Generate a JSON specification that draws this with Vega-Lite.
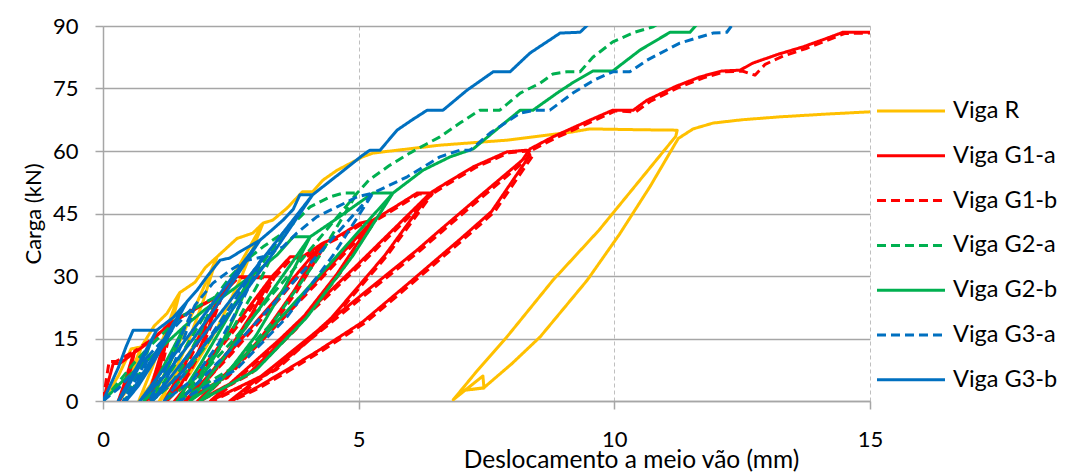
{
"$schema":"https://vega.github.io/schema/vega-lite/v6.json",
"autosize":{"type":"none"},
"padding":{"left":103,"top":26,"right":200,"bottom":71},
"width":767,"height":375,
"config":{"view":{"stroke":null},"font":"Lato"},
"data":{"values":[
{"s":"Viga R","i":0,"x":0,"y":0},{"s":"Viga R","i":1,"x":0.3,"y":6},{"s":"Viga R","i":2,"x":0.55,"y":12.5},{"s":"Viga R","i":3,"x":0.75,"y":13},{"s":"Viga R","i":4,"x":0.657,"y":9.1},{"s":"Viga R","i":5,"x":0.548,"y":5.2},{"s":"Viga R","i":6,"x":0.431,"y":1.95},{"s":"Viga R","i":7,"x":0.3,"y":0},{"s":"Viga R","i":8,"x":0.444,"y":3.9},{"s":"Viga R","i":9,"x":0.599,"y":8.45},{"s":"Viga R","i":10,"x":0.75,"y":13},{"s":"Viga R","i":11,"x":1.0,"y":18},{"s":"Viga R","i":12,"x":1.25,"y":21},{"s":"Viga R","i":13,"x":1.5,"y":26},{"s":"Viga R","i":14,"x":1.334,"y":18.2},{"s":"Viga R","i":15,"x":1.141,"y":10.4},{"s":"Viga R","i":16,"x":0.933,"y":3.9},{"s":"Viga R","i":17,"x":0.7,"y":0},{"s":"Viga R","i":18,"x":0.955,"y":7.8},{"s":"Viga R","i":19,"x":1.231,"y":16.9},{"s":"Viga R","i":20,"x":1.5,"y":26},{"s":"Viga R","i":21,"x":1.8,"y":28.5},{"s":"Viga R","i":22,"x":2.0,"y":32},{"s":"Viga R","i":23,"x":2.23,"y":34.6},{"s":"Viga R","i":24,"x":1.965,"y":24.2},{"s":"Viga R","i":25,"x":1.655,"y":13.8},{"s":"Viga R","i":26,"x":1.322,"y":5.2},{"s":"Viga R","i":27,"x":0.95,"y":0},{"s":"Viga R","i":28,"x":1.358,"y":10.4},{"s":"Viga R","i":29,"x":1.8,"y":22.5},{"s":"Viga R","i":30,"x":2.23,"y":34.6},{"s":"Viga R","i":31,"x":2.62,"y":39},{"s":"Viga R","i":32,"x":2.93,"y":40.3},{"s":"Viga R","i":33,"x":3.13,"y":42.7},{"s":"Viga R","i":34,"x":2.71,"y":29.9},{"s":"Viga R","i":35,"x":2.219,"y":17.1},{"s":"Viga R","i":36,"x":1.691,"y":6.4},{"s":"Viga R","i":37,"x":1.1,"y":0},{"s":"Viga R","i":38,"x":1.748,"y":12.8},{"s":"Viga R","i":39,"x":2.448,"y":27.8},{"s":"Viga R","i":40,"x":3.13,"y":42.7},{"s":"Viga R","i":41,"x":3.32,"y":43.4},{"s":"Viga R","i":42,"x":3.6,"y":46.3},{"s":"Viga R","i":43,"x":3.9,"y":50.2},{"s":"Viga R","i":44,"x":4.1,"y":50.2},{"s":"Viga R","i":45,"x":4.3,"y":53},{"s":"Viga R","i":46,"x":4.58,"y":55.4},{"s":"Viga R","i":47,"x":5.08,"y":58.6},{"s":"Viga R","i":48,"x":5.28,"y":59.5},{"s":"Viga R","i":49,"x":6.59,"y":61.4},{"s":"Viga R","i":50,"x":7.9,"y":62.6},{"s":"Viga R","i":51,"x":9.19,"y":64.6},{"s":"Viga R","i":52,"x":9.52,"y":65.3},{"s":"Viga R","i":53,"x":10.5,"y":65.1},{"s":"Viga R","i":54,"x":11.23,"y":65.0},{"s":"Viga R","i":55,"x":11.2,"y":63.5},{"s":"Viga R","i":56,"x":9.7,"y":41},{"s":"Viga R","i":57,"x":8.8,"y":29},{"s":"Viga R","i":58,"x":7.9,"y":15.4},{"s":"Viga R","i":59,"x":7.3,"y":7},{"s":"Viga R","i":60,"x":6.85,"y":0.3},{"s":"Viga R","i":61,"x":7.43,"y":6.0},{"s":"Viga R","i":62,"x":7.45,"y":3.1},{"s":"Viga R","i":63,"x":7.02,"y":2.5},{"s":"Viga R","i":64,"x":7.45,"y":3.2},{"s":"Viga R","i":65,"x":8.0,"y":9},{"s":"Viga R","i":66,"x":8.55,"y":15.4},{"s":"Viga R","i":67,"x":9.47,"y":29},{"s":"Viga R","i":68,"x":10.1,"y":40},{"s":"Viga R","i":69,"x":10.7,"y":51.5},{"s":"Viga R","i":70,"x":11.25,"y":63},{"s":"Viga R","i":71,"x":11.54,"y":65.3},{"s":"Viga R","i":72,"x":11.93,"y":66.7},{"s":"Viga R","i":73,"x":12.5,"y":67.5},{"s":"Viga R","i":74,"x":13.24,"y":68.2},{"s":"Viga R","i":75,"x":14.2,"y":68.9},{"s":"Viga R","i":76,"x":15.0,"y":69.4},

{"s":"Viga G1-a","i":0,"x":0,"y":0},{"s":"Viga G1-a","i":1,"x":0.2,"y":9},{"s":"Viga G1-a","i":2,"x":0.33,"y":9},{"s":"Viga G1-a","i":3,"x":0.6,"y":11.5},{"s":"Viga G1-a","i":4,"x":0.538,"y":8.05},{"s":"Viga G1-a","i":5,"x":0.465,"y":4.6},{"s":"Viga G1-a","i":6,"x":0.387,"y":1.73},{"s":"Viga G1-a","i":7,"x":0.3,"y":0},{"s":"Viga G1-a","i":8,"x":0.396,"y":3.45},{"s":"Viga G1-a","i":9,"x":0.499,"y":7.48},{"s":"Viga G1-a","i":10,"x":0.6,"y":11.5},{"s":"Viga G1-a","i":11,"x":0.95,"y":14.5},{"s":"Viga G1-a","i":12,"x":1.3,"y":18.5},{"s":"Viga G1-a","i":13,"x":1.207,"y":12.95},{"s":"Viga G1-a","i":14,"x":1.098,"y":7.4},{"s":"Viga G1-a","i":15,"x":0.981,"y":2.78},{"s":"Viga G1-a","i":16,"x":0.85,"y":0},{"s":"Viga G1-a","i":17,"x":0.994,"y":5.55},{"s":"Viga G1-a","i":18,"x":1.149,"y":12.03},{"s":"Viga G1-a","i":19,"x":1.3,"y":18.5},{"s":"Viga G1-a","i":20,"x":1.8,"y":22},{"s":"Viga G1-a","i":21,"x":2.3,"y":25.5},{"s":"Viga G1-a","i":22,"x":2.072,"y":17.85},{"s":"Viga G1-a","i":23,"x":1.806,"y":10.2},{"s":"Viga G1-a","i":24,"x":1.52,"y":3.83},{"s":"Viga G1-a","i":25,"x":1.2,"y":0},{"s":"Viga G1-a","i":26,"x":1.551,"y":7.65},{"s":"Viga G1-a","i":27,"x":1.93,"y":16.58},{"s":"Viga G1-a","i":28,"x":2.3,"y":25.5},{"s":"Viga G1-a","i":29,"x":2.6,"y":29.8},{"s":"Viga G1-a","i":30,"x":3.3,"y":29.8},{"s":"Viga G1-a","i":31,"x":2.907,"y":20.86},{"s":"Viga G1-a","i":32,"x":2.447,"y":11.92},{"s":"Viga G1-a","i":33,"x":1.953,"y":4.47},{"s":"Viga G1-a","i":34,"x":1.4,"y":0},{"s":"Viga G1-a","i":35,"x":2.006,"y":8.94},{"s":"Viga G1-a","i":36,"x":2.662,"y":19.37},{"s":"Viga G1-a","i":37,"x":3.3,"y":29.8},{"s":"Viga G1-a","i":38,"x":3.66,"y":34.6},{"s":"Viga G1-a","i":39,"x":3.9,"y":34.6},{"s":"Viga G1-a","i":40,"x":4.3,"y":37.9},{"s":"Viga G1-a","i":41,"x":3.741,"y":26.53},{"s":"Viga G1-a","i":42,"x":3.088,"y":15.16},{"s":"Viga G1-a","i":43,"x":2.386,"y":5.69},{"s":"Viga G1-a","i":44,"x":1.6,"y":0},{"s":"Viga G1-a","i":45,"x":2.461,"y":11.37},{"s":"Viga G1-a","i":46,"x":3.393,"y":24.64},{"s":"Viga G1-a","i":47,"x":4.3,"y":37.9},{"s":"Viga G1-a","i":48,"x":4.58,"y":39.4},{"s":"Viga G1-a","i":49,"x":5.03,"y":42.7},{"s":"Viga G1-a","i":50,"x":5.28,"y":43.4},{"s":"Viga G1-a","i":51,"x":4.57,"y":30.38},{"s":"Viga G1-a","i":52,"x":3.74,"y":17.36},{"s":"Viga G1-a","i":53,"x":2.848,"y":6.51},{"s":"Viga G1-a","i":54,"x":1.85,"y":0},{"s":"Viga G1-a","i":55,"x":2.944,"y":13.02},{"s":"Viga G1-a","i":56,"x":4.128,"y":28.21},{"s":"Viga G1-a","i":57,"x":5.28,"y":43.4},{"s":"Viga G1-a","i":58,"x":5.7,"y":46.5},{"s":"Viga G1-a","i":59,"x":6.14,"y":49.9},{"s":"Viga G1-a","i":60,"x":6.4,"y":49.9},{"s":"Viga G1-a","i":61,"x":5.51,"y":34.93},{"s":"Viga G1-a","i":62,"x":4.469,"y":19.96},{"s":"Viga G1-a","i":63,"x":3.351,"y":7.49},{"s":"Viga G1-a","i":64,"x":2.1,"y":0},{"s":"Viga G1-a","i":65,"x":3.472,"y":14.97},{"s":"Viga G1-a","i":66,"x":4.955,"y":32.44},{"s":"Viga G1-a","i":67,"x":6.4,"y":49.9},{"s":"Viga G1-a","i":68,"x":6.59,"y":51.4},{"s":"Viga G1-a","i":69,"x":7.24,"y":56.2},{"s":"Viga G1-a","i":70,"x":7.9,"y":59.8},{"s":"Viga G1-a","i":71,"x":8.29,"y":60.2},{"s":"Viga G1-a","i":72,"x":8.35,"y":59},{"s":"Viga G1-a","i":73,"x":7.6,"y":45.5},{"s":"Viga G1-a","i":74,"x":7.0,"y":39},{"s":"Viga G1-a","i":75,"x":6.0,"y":28.5},{"s":"Viga G1-a","i":76,"x":5.08,"y":19},{"s":"Viga G1-a","i":77,"x":4.2,"y":12},{"s":"Viga G1-a","i":78,"x":3.5,"y":6.8},{"s":"Viga G1-a","i":79,"x":3.0,"y":3.2},{"s":"Viga G1-a","i":80,"x":2.48,"y":0},{"s":"Viga G1-a","i":81,"x":3.32,"y":8.2},{"s":"Viga G1-a","i":82,"x":4.64,"y":21.3},{"s":"Viga G1-a","i":83,"x":6.14,"y":36.2},{"s":"Viga G1-a","i":84,"x":6.59,"y":41},{"s":"Viga G1-a","i":85,"x":7.4,"y":49.5},{"s":"Viga G1-a","i":86,"x":8.2,"y":57.8},{"s":"Viga G1-a","i":87,"x":8.35,"y":60.5},{"s":"Viga G1-a","i":88,"x":8.8,"y":63.4},{"s":"Viga G1-a","i":89,"x":9.52,"y":67.4},{"s":"Viga G1-a","i":90,"x":9.97,"y":69.8},{"s":"Viga G1-a","i":91,"x":10.37,"y":69.8},{"s":"Viga G1-a","i":92,"x":10.64,"y":72.2},{"s":"Viga G1-a","i":93,"x":11.2,"y":75.5},{"s":"Viga G1-a","i":94,"x":11.68,"y":77.8},{"s":"Viga G1-a","i":95,"x":12.1,"y":79.2},{"s":"Viga G1-a","i":96,"x":12.46,"y":79.4},{"s":"Viga G1-a","i":97,"x":12.71,"y":81.1},{"s":"Viga G1-a","i":98,"x":13.2,"y":83.2},{"s":"Viga G1-a","i":99,"x":13.69,"y":85},{"s":"Viga G1-a","i":100,"x":14.1,"y":86.8},{"s":"Viga G1-a","i":101,"x":14.47,"y":88.5},{"s":"Viga G1-a","i":102,"x":15.0,"y":88.5},

{"s":"Viga G1-b","i":0,"x":0,"y":0},{"s":"Viga G1-b","i":1,"x":0.12,"y":9.5},{"s":"Viga G1-b","i":2,"x":0.26,"y":9.5},{"s":"Viga G1-b","i":3,"x":0.62,"y":12},{"s":"Viga G1-b","i":4,"x":0.555,"y":8.4},{"s":"Viga G1-b","i":5,"x":0.48,"y":4.8},{"s":"Viga G1-b","i":6,"x":0.4,"y":1.8},{"s":"Viga G1-b","i":7,"x":0.32,"y":0},{"s":"Viga G1-b","i":8,"x":0.415,"y":3.6},{"s":"Viga G1-b","i":9,"x":0.52,"y":7.8},{"s":"Viga G1-b","i":10,"x":0.62,"y":12},{"s":"Viga G1-b","i":11,"x":0.98,"y":15},{"s":"Viga G1-b","i":12,"x":1.35,"y":19},{"s":"Viga G1-b","i":13,"x":1.25,"y":13.3},{"s":"Viga G1-b","i":14,"x":1.14,"y":7.6},{"s":"Viga G1-b","i":15,"x":1.02,"y":2.85},{"s":"Viga G1-b","i":16,"x":0.9,"y":0},{"s":"Viga G1-b","i":17,"x":1.04,"y":5.7},{"s":"Viga G1-b","i":18,"x":1.2,"y":12.35},{"s":"Viga G1-b","i":19,"x":1.35,"y":19},{"s":"Viga G1-b","i":20,"x":1.85,"y":22.5},{"s":"Viga G1-b","i":21,"x":2.35,"y":26},{"s":"Viga G1-b","i":22,"x":2.12,"y":18.2},{"s":"Viga G1-b","i":23,"x":1.85,"y":10.4},{"s":"Viga G1-b","i":24,"x":1.56,"y":3.9},{"s":"Viga G1-b","i":25,"x":1.25,"y":0},{"s":"Viga G1-b","i":26,"x":1.6,"y":7.8},{"s":"Viga G1-b","i":27,"x":1.98,"y":16.9},{"s":"Viga G1-b","i":28,"x":2.35,"y":26},{"s":"Viga G1-b","i":29,"x":2.65,"y":29.6},{"s":"Viga G1-b","i":30,"x":3.35,"y":29.6},{"s":"Viga G1-b","i":31,"x":2.95,"y":20.7},{"s":"Viga G1-b","i":32,"x":2.49,"y":11.8},{"s":"Viga G1-b","i":33,"x":2.0,"y":4.4},{"s":"Viga G1-b","i":34,"x":1.45,"y":0},{"s":"Viga G1-b","i":35,"x":2.05,"y":8.9},{"s":"Viga G1-b","i":36,"x":2.71,"y":19.2},{"s":"Viga G1-b","i":37,"x":3.35,"y":29.6},{"s":"Viga G1-b","i":38,"x":3.7,"y":34.3},{"s":"Viga G1-b","i":39,"x":3.95,"y":34.3},{"s":"Viga G1-b","i":40,"x":4.35,"y":37.6},{"s":"Viga G1-b","i":41,"x":3.79,"y":26.3},{"s":"Viga G1-b","i":42,"x":3.13,"y":15},{"s":"Viga G1-b","i":43,"x":2.43,"y":5.6},{"s":"Viga G1-b","i":44,"x":1.65,"y":0},{"s":"Viga G1-b","i":45,"x":2.51,"y":11.3},{"s":"Viga G1-b","i":46,"x":3.44,"y":24.4},{"s":"Viga G1-b","i":47,"x":4.35,"y":37.6},{"s":"Viga G1-b","i":48,"x":4.62,"y":39.2},{"s":"Viga G1-b","i":49,"x":5.07,"y":42.5},{"s":"Viga G1-b","i":50,"x":5.32,"y":43.2},{"s":"Viga G1-b","i":51,"x":4.61,"y":30.2},{"s":"Viga G1-b","i":52,"x":3.78,"y":17.3},{"s":"Viga G1-b","i":53,"x":2.89,"y":6.5},{"s":"Viga G1-b","i":54,"x":1.9,"y":0},{"s":"Viga G1-b","i":55,"x":2.99,"y":13},{"s":"Viga G1-b","i":56,"x":4.17,"y":28.1},{"s":"Viga G1-b","i":57,"x":5.32,"y":43.2},{"s":"Viga G1-b","i":58,"x":5.74,"y":46.3},{"s":"Viga G1-b","i":59,"x":6.18,"y":49.7},{"s":"Viga G1-b","i":60,"x":6.44,"y":49.7},{"s":"Viga G1-b","i":61,"x":5.55,"y":34.8},{"s":"Viga G1-b","i":62,"x":4.51,"y":19.9},{"s":"Viga G1-b","i":63,"x":3.39,"y":7.5},{"s":"Viga G1-b","i":64,"x":2.15,"y":0},{"s":"Viga G1-b","i":65,"x":3.51,"y":14.9},{"s":"Viga G1-b","i":66,"x":5.0,"y":32.3},{"s":"Viga G1-b","i":67,"x":6.44,"y":49.7},{"s":"Viga G1-b","i":68,"x":6.63,"y":51.2},{"s":"Viga G1-b","i":69,"x":7.28,"y":56},{"s":"Viga G1-b","i":70,"x":7.94,"y":59.6},{"s":"Viga G1-b","i":71,"x":8.33,"y":60},{"s":"Viga G1-b","i":72,"x":8.4,"y":58.8},{"s":"Viga G1-b","i":73,"x":7.65,"y":45.3},{"s":"Viga G1-b","i":74,"x":7.05,"y":38.8},{"s":"Viga G1-b","i":75,"x":6.05,"y":28.3},{"s":"Viga G1-b","i":76,"x":5.13,"y":18.8},{"s":"Viga G1-b","i":77,"x":4.25,"y":11.8},{"s":"Viga G1-b","i":78,"x":3.55,"y":6.6},{"s":"Viga G1-b","i":79,"x":3.05,"y":3.1},{"s":"Viga G1-b","i":80,"x":2.53,"y":0},{"s":"Viga G1-b","i":81,"x":3.37,"y":8},{"s":"Viga G1-b","i":82,"x":4.69,"y":21.1},{"s":"Viga G1-b","i":83,"x":6.19,"y":36},{"s":"Viga G1-b","i":84,"x":6.64,"y":40.8},{"s":"Viga G1-b","i":85,"x":7.45,"y":49.3},{"s":"Viga G1-b","i":86,"x":8.25,"y":57.6},{"s":"Viga G1-b","i":87,"x":8.4,"y":60.3},{"s":"Viga G1-b","i":88,"x":8.85,"y":63.1},{"s":"Viga G1-b","i":89,"x":9.57,"y":67.1},{"s":"Viga G1-b","i":90,"x":10.02,"y":69.6},{"s":"Viga G1-b","i":91,"x":10.42,"y":69.4},{"s":"Viga G1-b","i":92,"x":10.7,"y":71.9},{"s":"Viga G1-b","i":93,"x":11.25,"y":75.2},{"s":"Viga G1-b","i":94,"x":11.73,"y":77.5},{"s":"Viga G1-b","i":95,"x":12.15,"y":79},{"s":"Viga G1-b","i":96,"x":12.5,"y":79.2},{"s":"Viga G1-b","i":97,"x":12.75,"y":78.2},{"s":"Viga G1-b","i":98,"x":12.95,"y":80.8},{"s":"Viga G1-b","i":99,"x":13.3,"y":82.8},{"s":"Viga G1-b","i":100,"x":13.75,"y":84.6},{"s":"Viga G1-b","i":101,"x":14.15,"y":86.5},{"s":"Viga G1-b","i":102,"x":14.5,"y":88.2},{"s":"Viga G1-b","i":103,"x":15.0,"y":88.3},

{"s":"Viga G2-a","i":0,"x":0,"y":0},{"s":"Viga G2-a","i":1,"x":0.3,"y":4.5},{"s":"Viga G2-a","i":2,"x":0.6,"y":9},{"s":"Viga G2-a","i":3,"x":0.9,"y":13},{"s":"Viga G2-a","i":4,"x":0.797,"y":9.1},{"s":"Viga G2-a","i":5,"x":0.676,"y":5.2},{"s":"Viga G2-a","i":6,"x":0.546,"y":1.95},{"s":"Viga G2-a","i":7,"x":0.4,"y":0},{"s":"Viga G2-a","i":8,"x":0.56,"y":3.9},{"s":"Viga G2-a","i":9,"x":0.732,"y":8.45},{"s":"Viga G2-a","i":10,"x":0.9,"y":13},{"s":"Viga G2-a","i":11,"x":1.2,"y":16.5},{"s":"Viga G2-a","i":12,"x":1.5,"y":20},{"s":"Viga G2-a","i":13,"x":1.9,"y":23},{"s":"Viga G2-a","i":14,"x":2.2,"y":25},{"s":"Viga G2-a","i":15,"x":1.941,"y":17.5},{"s":"Viga G2-a","i":16,"x":1.639,"y":10},{"s":"Viga G2-a","i":17,"x":1.314,"y":3.75},{"s":"Viga G2-a","i":18,"x":0.95,"y":0},{"s":"Viga G2-a","i":19,"x":1.349,"y":7.5},{"s":"Viga G2-a","i":20,"x":1.78,"y":16.25},{"s":"Viga G2-a","i":21,"x":2.2,"y":25},{"s":"Viga G2-a","i":22,"x":2.5,"y":30},{"s":"Viga G2-a","i":23,"x":2.82,"y":34},{"s":"Viga G2-a","i":24,"x":3.13,"y":37},{"s":"Viga G2-a","i":25,"x":3.52,"y":40.3},{"s":"Viga G2-a","i":26,"x":3.04,"y":28.21},{"s":"Viga G2-a","i":27,"x":2.478,"y":16.12},{"s":"Viga G2-a","i":28,"x":1.875,"y":6.05},{"s":"Viga G2-a","i":29,"x":1.2,"y":0},{"s":"Viga G2-a","i":30,"x":1.94,"y":12.09},{"s":"Viga G2-a","i":31,"x":2.74,"y":26.2},{"s":"Viga G2-a","i":32,"x":3.52,"y":40.3},{"s":"Viga G2-a","i":33,"x":3.8,"y":43.5},{"s":"Viga G2-a","i":34,"x":4.05,"y":46.6},{"s":"Viga G2-a","i":35,"x":4.44,"y":49},{"s":"Viga G2-a","i":36,"x":4.7,"y":49.9},{"s":"Viga G2-a","i":37,"x":4.97,"y":49.9},{"s":"Viga G2-a","i":38,"x":4.241,"y":34.93},{"s":"Viga G2-a","i":39,"x":3.39,"y":19.96},{"s":"Viga G2-a","i":40,"x":2.474,"y":7.49},{"s":"Viga G2-a","i":41,"x":1.45,"y":0},{"s":"Viga G2-a","i":42,"x":2.573,"y":14.97},{"s":"Viga G2-a","i":43,"x":3.787,"y":32.44},{"s":"Viga G2-a","i":44,"x":4.97,"y":49.9},{"s":"Viga G2-a","i":45,"x":5.2,"y":53},{"s":"Viga G2-a","i":46,"x":5.6,"y":56.5},{"s":"Viga G2-a","i":47,"x":6.0,"y":59.5},{"s":"Viga G2-a","i":48,"x":6.3,"y":61.5},{"s":"Viga G2-a","i":49,"x":6.59,"y":63.4},{"s":"Viga G2-a","i":50,"x":6.98,"y":66.7},{"s":"Viga G2-a","i":51,"x":7.37,"y":69.8},{"s":"Viga G2-a","i":52,"x":7.76,"y":69.8},{"s":"Viga G2-a","i":53,"x":8.16,"y":73.9},{"s":"Viga G2-a","i":54,"x":8.55,"y":76.3},{"s":"Viga G2-a","i":55,"x":8.8,"y":78.5},{"s":"Viga G2-a","i":56,"x":9.07,"y":79},{"s":"Viga G2-a","i":57,"x":9.33,"y":79},{"s":"Viga G2-a","i":58,"x":9.58,"y":82.5},{"s":"Viga G2-a","i":59,"x":9.97,"y":86.2},{"s":"Viga G2-a","i":60,"x":10.4,"y":88.5},{"s":"Viga G2-a","i":61,"x":10.76,"y":89.8},{"s":"Viga G2-a","i":62,"x":10.85,"y":90.5},

{"s":"Viga G2-b","i":0,"x":0,"y":0},{"s":"Viga G2-b","i":1,"x":0.4,"y":5},{"s":"Viga G2-b","i":2,"x":0.8,"y":9},{"s":"Viga G2-b","i":3,"x":1.2,"y":13.5},{"s":"Viga G2-b","i":4,"x":1.6,"y":18},{"s":"Viga G2-b","i":5,"x":1.434,"y":12.6},{"s":"Viga G2-b","i":6,"x":1.241,"y":7.2},{"s":"Viga G2-b","i":7,"x":1.033,"y":2.7},{"s":"Viga G2-b","i":8,"x":0.8,"y":0},{"s":"Viga G2-b","i":9,"x":1.055,"y":5.4},{"s":"Viga G2-b","i":10,"x":1.331,"y":11.7},{"s":"Viga G2-b","i":11,"x":1.6,"y":18},{"s":"Viga G2-b","i":12,"x":2.0,"y":22},{"s":"Viga G2-b","i":13,"x":2.4,"y":25.5},{"s":"Viga G2-b","i":14,"x":2.9,"y":30},{"s":"Viga G2-b","i":15,"x":2.6,"y":21},{"s":"Viga G2-b","i":16,"x":2.249,"y":12},{"s":"Viga G2-b","i":17,"x":1.872,"y":4.5},{"s":"Viga G2-b","i":18,"x":1.45,"y":0},{"s":"Viga G2-b","i":19,"x":1.913,"y":9},{"s":"Viga G2-b","i":20,"x":2.413,"y":19.5},{"s":"Viga G2-b","i":21,"x":2.9,"y":30},{"s":"Viga G2-b","i":22,"x":3.4,"y":35},{"s":"Viga G2-b","i":23,"x":3.72,"y":39.4},{"s":"Viga G2-b","i":24,"x":4.05,"y":39.4},{"s":"Viga G2-b","i":25,"x":3.564,"y":27.58},{"s":"Viga G2-b","i":26,"x":2.995,"y":15.76},{"s":"Viga G2-b","i":27,"x":2.384,"y":5.91},{"s":"Viga G2-b","i":28,"x":1.7,"y":0},{"s":"Viga G2-b","i":29,"x":2.45,"y":11.82},{"s":"Viga G2-b","i":30,"x":3.26,"y":25.61},{"s":"Viga G2-b","i":31,"x":4.05,"y":39.4},{"s":"Viga G2-b","i":32,"x":4.6,"y":44},{"s":"Viga G2-b","i":33,"x":5.0,"y":47.5},{"s":"Viga G2-b","i":34,"x":5.28,"y":49.9},{"s":"Viga G2-b","i":35,"x":5.67,"y":49.9},{"s":"Viga G2-b","i":36,"x":4.89,"y":34.93},{"s":"Viga G2-b","i":37,"x":3.977,"y":19.96},{"s":"Viga G2-b","i":38,"x":2.997,"y":7.49},{"s":"Viga G2-b","i":39,"x":1.9,"y":0},{"s":"Viga G2-b","i":40,"x":3.103,"y":14.97},{"s":"Viga G2-b","i":41,"x":4.403,"y":32.44},{"s":"Viga G2-b","i":42,"x":5.67,"y":49.9},{"s":"Viga G2-b","i":43,"x":6.26,"y":55.4},{"s":"Viga G2-b","i":44,"x":6.79,"y":58.6},{"s":"Viga G2-b","i":45,"x":7.24,"y":60.5},{"s":"Viga G2-b","i":46,"x":7.76,"y":65.8},{"s":"Viga G2-b","i":47,"x":8.16,"y":69.8},{"s":"Viga G2-b","i":48,"x":8.41,"y":69.8},{"s":"Viga G2-b","i":49,"x":8.88,"y":73.9},{"s":"Viga G2-b","i":50,"x":9.2,"y":76.5},{"s":"Viga G2-b","i":51,"x":9.58,"y":79.2},{"s":"Viga G2-b","i":52,"x":9.97,"y":79.2},{"s":"Viga G2-b","i":53,"x":10.5,"y":84.2},{"s":"Viga G2-b","i":54,"x":11.09,"y":88.5},{"s":"Viga G2-b","i":55,"x":11.48,"y":88.5},{"s":"Viga G2-b","i":56,"x":11.62,"y":90.5},

{"s":"Viga G3-a","i":0,"x":0,"y":0},{"s":"Viga G3-a","i":1,"x":0.3,"y":3},{"s":"Viga G3-a","i":2,"x":0.6,"y":7},{"s":"Viga G3-a","i":3,"x":0.9,"y":11},{"s":"Viga G3-a","i":4,"x":0.797,"y":7.7},{"s":"Viga G3-a","i":5,"x":0.676,"y":4.4},{"s":"Viga G3-a","i":6,"x":0.546,"y":1.65},{"s":"Viga G3-a","i":7,"x":0.4,"y":0},{"s":"Viga G3-a","i":8,"x":0.56,"y":3.3},{"s":"Viga G3-a","i":9,"x":0.732,"y":7.15},{"s":"Viga G3-a","i":10,"x":0.9,"y":11},{"s":"Viga G3-a","i":11,"x":1.2,"y":15},{"s":"Viga G3-a","i":12,"x":1.5,"y":19},{"s":"Viga G3-a","i":13,"x":1.8,"y":23},{"s":"Viga G3-a","i":14,"x":1.614,"y":16.1},{"s":"Viga G3-a","i":15,"x":1.396,"y":9.2},{"s":"Viga G3-a","i":16,"x":1.162,"y":3.45},{"s":"Viga G3-a","i":17,"x":0.9,"y":0},{"s":"Viga G3-a","i":18,"x":1.187,"y":6.9},{"s":"Viga G3-a","i":19,"x":1.498,"y":14.95},{"s":"Viga G3-a","i":20,"x":1.8,"y":23},{"s":"Viga G3-a","i":21,"x":2.15,"y":28.3},{"s":"Viga G3-a","i":22,"x":2.5,"y":31.5},{"s":"Viga G3-a","i":23,"x":2.82,"y":33.8},{"s":"Viga G3-a","i":24,"x":3.13,"y":34.6},{"s":"Viga G3-a","i":25,"x":2.73,"y":24.22},{"s":"Viga G3-a","i":26,"x":2.263,"y":13.84},{"s":"Viga G3-a","i":27,"x":1.762,"y":5.19},{"s":"Viga G3-a","i":28,"x":1.2,"y":0},{"s":"Viga G3-a","i":29,"x":1.816,"y":10.38},{"s":"Viga G3-a","i":30,"x":2.482,"y":22.49},{"s":"Viga G3-a","i":31,"x":3.13,"y":34.6},{"s":"Viga G3-a","i":32,"x":3.52,"y":37},{"s":"Viga G3-a","i":33,"x":3.79,"y":40.3},{"s":"Viga G3-a","i":34,"x":4.18,"y":44.2},{"s":"Viga G3-a","i":35,"x":4.58,"y":46.6},{"s":"Viga G3-a","i":36,"x":4.97,"y":49},{"s":"Viga G3-a","i":37,"x":5.28,"y":49.9},{"s":"Viga G3-a","i":38,"x":4.498,"y":34.93},{"s":"Viga G3-a","i":39,"x":3.583,"y":19.96},{"s":"Viga G3-a","i":40,"x":2.6,"y":7.49},{"s":"Viga G3-a","i":41,"x":1.5,"y":0},{"s":"Viga G3-a","i":42,"x":2.706,"y":14.97},{"s":"Viga G3-a","i":43,"x":4.01,"y":32.44},{"s":"Viga G3-a","i":44,"x":5.28,"y":49.9},{"s":"Viga G3-a","i":45,"x":5.95,"y":53.8},{"s":"Viga G3-a","i":46,"x":6.59,"y":58.6},{"s":"Viga G3-a","i":47,"x":6.98,"y":60.2},{"s":"Viga G3-a","i":48,"x":7.18,"y":60.2},{"s":"Viga G3-a","i":49,"x":7.57,"y":64.3},{"s":"Viga G3-a","i":50,"x":8.16,"y":69.1},{"s":"Viga G3-a","i":51,"x":8.45,"y":69.8},{"s":"Viga G3-a","i":52,"x":8.74,"y":69.8},{"s":"Viga G3-a","i":53,"x":9.19,"y":73.9},{"s":"Viga G3-a","i":54,"x":9.6,"y":77},{"s":"Viga G3-a","i":55,"x":9.97,"y":79},{"s":"Viga G3-a","i":56,"x":10.3,"y":79},{"s":"Viga G3-a","i":57,"x":10.64,"y":81.8},{"s":"Viga G3-a","i":58,"x":11.28,"y":85.9},{"s":"Viga G3-a","i":59,"x":11.93,"y":88.3},{"s":"Viga G3-a","i":60,"x":12.2,"y":88.5},{"s":"Viga G3-a","i":61,"x":12.32,"y":90.5},

{"s":"Viga G3-b","i":0,"x":0,"y":0},{"s":"Viga G3-b","i":1,"x":0.15,"y":4},{"s":"Viga G3-b","i":2,"x":0.3,"y":8},{"s":"Viga G3-b","i":3,"x":0.45,"y":13},{"s":"Viga G3-b","i":4,"x":0.59,"y":17},{"s":"Viga G3-b","i":5,"x":1.05,"y":17},{"s":"Viga G3-b","i":6,"x":0.854,"y":11.9},{"s":"Viga G3-b","i":7,"x":0.644,"y":6.8},{"s":"Viga G3-b","i":8,"x":0.449,"y":2.55},{"s":"Viga G3-b","i":9,"x":0.3,"y":0},{"s":"Viga G3-b","i":10,"x":0.525,"y":5.1},{"s":"Viga G3-b","i":11,"x":0.788,"y":11.05},{"s":"Viga G3-b","i":12,"x":1.05,"y":17},{"s":"Viga G3-b","i":13,"x":1.37,"y":20},{"s":"Viga G3-b","i":14,"x":1.64,"y":23.8},{"s":"Viga G3-b","i":15,"x":1.329,"y":16.66},{"s":"Viga G3-b","i":16,"x":0.996,"y":9.52},{"s":"Viga G3-b","i":17,"x":0.687,"y":3.57},{"s":"Viga G3-b","i":18,"x":0.45,"y":0},{"s":"Viga G3-b","i":19,"x":0.807,"y":7.14},{"s":"Viga G3-b","i":20,"x":1.224,"y":15.47},{"s":"Viga G3-b","i":21,"x":1.64,"y":23.8},{"s":"Viga G3-b","i":22,"x":1.84,"y":26.6},{"s":"Viga G3-b","i":23,"x":2.03,"y":29.8},{"s":"Viga G3-b","i":24,"x":2.29,"y":33.8},{"s":"Viga G3-b","i":25,"x":2.48,"y":34.3},{"s":"Viga G3-b","i":26,"x":2.7,"y":36},{"s":"Viga G3-b","i":27,"x":3.07,"y":38.6},{"s":"Viga G3-b","i":28,"x":2.457,"y":27.02},{"s":"Viga G3-b","i":29,"x":1.799,"y":15.44},{"s":"Viga G3-b","i":30,"x":1.188,"y":5.79},{"s":"Viga G3-b","i":31,"x":0.72,"y":0},{"s":"Viga G3-b","i":32,"x":1.425,"y":11.58},{"s":"Viga G3-b","i":33,"x":2.248,"y":25.09},{"s":"Viga G3-b","i":34,"x":3.07,"y":38.6},{"s":"Viga G3-b","i":35,"x":3.3,"y":41},{"s":"Viga G3-b","i":36,"x":3.52,"y":43.4},{"s":"Viga G3-b","i":37,"x":3.72,"y":46},{"s":"Viga G3-b","i":38,"x":3.85,"y":49.5},{"s":"Viga G3-b","i":39,"x":4.1,"y":49.5},{"s":"Viga G3-b","i":40,"x":3.28,"y":34.65},{"s":"Viga G3-b","i":41,"x":2.401,"y":19.8},{"s":"Viga G3-b","i":42,"x":1.585,"y":7.43},{"s":"Viga G3-b","i":43,"x":0.96,"y":0},{"s":"Viga G3-b","i":44,"x":1.902,"y":14.85},{"s":"Viga G3-b","i":45,"x":3.001,"y":32.18},{"s":"Viga G3-b","i":46,"x":4.1,"y":49.5},{"s":"Viga G3-b","i":47,"x":4.64,"y":54.7},{"s":"Viga G3-b","i":48,"x":5.08,"y":59},{"s":"Viga G3-b","i":49,"x":5.22,"y":60.2},{"s":"Viga G3-b","i":50,"x":5.42,"y":60.2},{"s":"Viga G3-b","i":51,"x":5.75,"y":65},{"s":"Viga G3-b","i":52,"x":6.05,"y":67.5},{"s":"Viga G3-b","i":53,"x":6.34,"y":69.8},{"s":"Viga G3-b","i":54,"x":6.65,"y":69.8},{"s":"Viga G3-b","i":55,"x":7.12,"y":74.6},{"s":"Viga G3-b","i":56,"x":7.63,"y":79},{"s":"Viga G3-b","i":57,"x":7.96,"y":79},{"s":"Viga G3-b","i":58,"x":8.35,"y":83.5},{"s":"Viga G3-b","i":59,"x":8.94,"y":88.3},{"s":"Viga G3-b","i":60,"x":9.33,"y":88.5},{"s":"Viga G3-b","i":61,"x":9.5,"y":90.5}
]},
"mark":{"type":"line","strokeWidth":3,"clip":true,"strokeJoin":"round"},
"encoding":{
"x":{"field":"x","type":"quantitative","scale":{"domain":[0,15],"nice":false,"zero":false},
 "axis":{"values":[0,5,10,15],"title":"Deslocamento a meio vão (mm)","titleFontSize":24.5,"titleFont":"Lato","titleFontWeight":"normal","titleColor":"#000","titleX":528,"titleY":66,"titleBaseline":"alphabetic","labelFontSize":22,"labelFont":"Lato","labelColor":"#000","labelPadding":20,"tickSize":8,"tickColor":"#a6a6a6","tickWidth":1.5,"domainColor":"#a6a6a6","domainWidth":1.5,"grid":true,"gridColor":"#bfbfbf","gridDash":[4,3],"gridWidth":1,"labelFlush":false}},
"y":{"field":"y","type":"quantitative","scale":{"domain":[0,90],"nice":false},
 "axis":{"values":[0,15,30,45,60,75,90],"title":"Carga (kN)","titleFontSize":22,"titleFont":"Lato","titleFontWeight":"normal","titleColor":"#000","titlePadding":7,"labelFontSize":22,"labelFont":"Lato","labelColor":"#000","labelPadding":17,"tickSize":8,"tickColor":"#a6a6a6","tickWidth":1.5,"domainColor":"#a6a6a6","domainWidth":1.5,"grid":true,"gridColor":"#a6a6a6","gridWidth":1.5,"labelFlush":false}},
"color":{"field":"s","type":"nominal","scale":{"domain":["Viga R","Viga G1-a","Viga G1-b","Viga G2-a","Viga G2-b","Viga G3-a","Viga G3-b"],"range":["#FFC000","#FF0000","#FF0000","#00B050","#00B050","#0070C0","#0070C0"]},
 "legend":{"title":null,"orient":"none","legendX":795,"legendY":72,"padding":0,"symbolType":"M-3,0H3","symbolSize":514,"symbolStrokeWidth":3,"labelOffset":29,"labelFontSize":23.5,"labelFont":"Lato","labelColor":"#000","rowPadding":19.8,"labelLimit":200}},
"strokeDash":{"field":"s","type":"nominal","scale":{"domain":["Viga R","Viga G1-a","Viga G1-b","Viga G2-a","Viga G2-b","Viga G3-a","Viga G3-b"],"range":[[1,0],[1,0],[9,5],[9,5],[1,0],[9,5],[1,0]]},
 "legend":{"title":null,"orient":"none","legendX":795,"legendY":72,"padding":0,"symbolType":"M-3,0H3","symbolSize":514,"symbolStrokeWidth":3,"labelOffset":29,"labelFontSize":23.5,"labelFont":"Lato","labelColor":"#000","rowPadding":19.8,"labelLimit":200}},
"order":{"field":"i","type":"quantitative"}
}
}
